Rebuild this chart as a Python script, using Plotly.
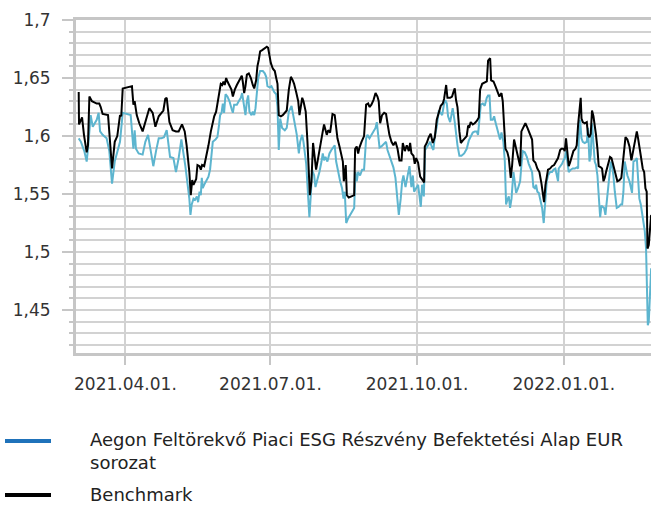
import plotly.graph_objects as go
import pandas as pd

BASE_DATE = "2021-03-01"  # day offsets below are counted from this date

# (days since BASE_DATE, value)
benchmark = [
    (1.7, 1.638), (1.9, 1.610), (3.8, 1.616), (5.0, 1.601), (6.7, 1.586), (7.5, 1.592), (8.4, 1.634),
    (10.0, 1.630), (13.0, 1.628), (14.6, 1.628), (15.5, 1.625), (16.7, 1.619), (20.1, 1.618), (20.9, 1.601),
    (22.6, 1.572), (24.3, 1.595), (25.9, 1.600), (27.6, 1.618), (28.4, 1.617), (29.3, 1.641), (35.1, 1.643),
    (36.0, 1.627), (36.8, 1.630), (38.1, 1.618), (39.7, 1.611), (41.8, 1.604), (43.9, 1.614), (46.0, 1.624),
    (48.1, 1.620), (49.8, 1.608), (51.9, 1.617), (54.8, 1.622), (56.0, 1.632), (56.9, 1.633), (58.6, 1.612),
    (60.6, 1.605), (62.7, 1.604), (64.4, 1.604), (66.5, 1.610), (68.2, 1.604), (69.4, 1.592), (71.1, 1.569),
    (72.0, 1.549), (72.9, 1.562), (73.7, 1.558), (75.4, 1.563), (76.2, 1.575), (77.5, 1.574), (78.3, 1.571),
    (79.1, 1.575), (80.4, 1.574), (81.6, 1.581), (83.1, 1.592), (84.6, 1.604), (85.8, 1.611), (86.7, 1.617),
    (87.9, 1.621), (88.7, 1.627), (90.0, 1.638), (90.8, 1.645), (91.7, 1.644), (92.5, 1.647), (93.3, 1.644),
    (94.2, 1.650), (95.0, 1.647), (96.3, 1.644), (97.5, 1.640), (98.4, 1.634), (99.6, 1.640), (100.9, 1.644),
    (102.5, 1.648), (104.0, 1.652), (104.6, 1.647), (105.5, 1.637), (106.3, 1.643), (107.2, 1.653), (108.4, 1.654),
    (109.7, 1.650), (110.9, 1.644), (111.8, 1.641), (113.0, 1.648), (113.8, 1.660), (114.7, 1.666), (115.5, 1.673),
    (116.8, 1.674), (118.4, 1.676), (119.7, 1.677), (120.5, 1.676), (121.4, 1.670), (122.2, 1.663), (123.5, 1.658),
    (124.7, 1.656), (125.6, 1.650), (126.4, 1.645), (127.2, 1.618), (128.5, 1.617), (129.7, 1.618), (131.4, 1.621),
    (132.2, 1.622), (133.5, 1.640), (134.8, 1.651), (136.0, 1.648), (136.8, 1.645), (138.1, 1.638), (139.4, 1.630),
    (140.2, 1.618), (141.0, 1.625), (141.9, 1.633), (142.7, 1.630), (144.1, 1.621), (145.2, 1.595), (146.0, 1.572),
    (146.7, 1.549), (147.7, 1.561), (148.7, 1.594), (149.8, 1.581), (150.6, 1.571), (151.5, 1.578), (152.5, 1.587),
    (153.6, 1.595), (154.8, 1.604), (155.6, 1.610), (156.5, 1.604), (157.3, 1.601), (158.2, 1.605), (159.4, 1.603),
    (160.2, 1.611), (160.9, 1.619), (162.3, 1.618), (163.2, 1.604), (164.0, 1.598), (165.3, 1.591), (166.5, 1.583),
    (167.4, 1.578), (168.0, 1.561), (168.8, 1.572), (169.2, 1.575), (169.9, 1.549), (171.1, 1.547), (172.8, 1.548),
    (174.5, 1.549), (175.1, 1.589), (176.1, 1.591), (177.0, 1.585), (177.8, 1.590), (179.1, 1.595), (180.7, 1.600),
    (182.0, 1.627), (183.3, 1.628), (184.1, 1.625), (185.3, 1.627), (186.6, 1.631), (187.9, 1.637), (189.1, 1.634),
    (189.9, 1.630), (190.8, 1.611), (192.0, 1.618), (193.3, 1.620), (194.5, 1.619), (195.4, 1.611), (196.6, 1.601),
    (197.9, 1.595), (199.1, 1.592), (200.4, 1.595), (201.7, 1.589), (202.9, 1.579), (204.2, 1.579), (205.0, 1.594),
    (206.3, 1.587), (207.5, 1.592), (208.8, 1.587), (209.6, 1.594), (210.4, 1.585), (211.7, 1.583), (212.5, 1.576),
    (213.4, 1.581), (214.6, 1.577), (215.9, 1.565), (217.1, 1.563), (218.4, 1.560), (218.8, 1.591), (220.0, 1.594),
    (221.3, 1.599), (222.5, 1.602), (223.8, 1.594), (225.1, 1.599), (226.3, 1.614), (227.6, 1.621), (228.8, 1.626),
    (230.1, 1.628), (230.9, 1.632), (232.2, 1.644), (233.0, 1.633), (234.7, 1.633), (235.9, 1.634), (236.8, 1.638),
    (237.6, 1.641), (238.4, 1.631), (239.3, 1.625), (240.5, 1.604), (241.4, 1.594), (242.6, 1.596), (243.9, 1.598),
    (245.1, 1.600), (246.0, 1.609), (246.8, 1.608), (247.6, 1.612), (248.9, 1.610), (250.1, 1.611), (251.4, 1.613),
    (252.7, 1.616), (253.5, 1.640), (254.8, 1.645), (256.4, 1.646), (257.7, 1.647), (258.5, 1.665), (259.8, 1.667),
    (260.4, 1.648), (261.9, 1.647), (263.1, 1.643), (264.4, 1.639), (265.6, 1.634), (266.9, 1.637), (267.7, 1.630),
    (268.6, 1.608), (269.4, 1.589), (270.6, 1.586), (271.5, 1.581), (272.7, 1.564), (273.6, 1.575), (274.8, 1.597),
    (275.7, 1.592), (276.5, 1.585), (277.8, 1.579), (278.6, 1.574), (279.4, 1.604), (280.7, 1.608), (281.9, 1.611),
    (283.2, 1.607), (284.4, 1.603), (286.1, 1.597), (286.9, 1.579), (288.2, 1.577), (289.4, 1.572), (290.7, 1.569),
    (292.0, 1.559), (292.8, 1.552), (293.6, 1.543), (294.5, 1.558), (295.3, 1.564), (296.1, 1.571), (297.4, 1.572),
    (298.6, 1.574), (299.9, 1.575), (300.7, 1.577), (301.6, 1.578), (302.4, 1.581), (303.7, 1.588), (304.5, 1.589),
    (305.8, 1.589), (306.6, 1.587), (307.4, 1.598), (308.3, 1.588), (309.1, 1.574), (309.9, 1.577), (310.8, 1.582),
    (312.0, 1.587), (313.3, 1.589), (314.1, 1.592), (315.0, 1.610), (315.8, 1.621), (316.6, 1.633), (317.1, 1.615),
    (317.9, 1.612), (319.1, 1.611), (320.4, 1.612), (321.2, 1.601), (322.1, 1.599), (322.9, 1.602), (323.7, 1.622),
    (324.6, 1.617), (325.4, 1.610), (326.2, 1.601), (327.1, 1.589), (327.9, 1.574), (329.2, 1.573), (330.0, 1.572),
    (330.9, 1.561), (331.7, 1.564), (332.5, 1.569), (333.8, 1.575), (335.0, 1.582), (335.9, 1.581), (337.1, 1.574),
    (338.4, 1.566), (339.6, 1.561), (340.9, 1.562), (342.1, 1.564), (343.0, 1.576), (343.8, 1.589), (344.7, 1.599),
    (345.9, 1.597), (347.2, 1.591), (348.4, 1.579), (349.7, 1.588), (350.9, 1.598), (351.8, 1.604), (352.6, 1.598),
    (353.4, 1.589), (354.3, 1.583), (355.5, 1.572), (356.4, 1.569), (357.2, 1.555), (358.0, 1.552), (358.5, 1.503),
    (359.3, 1.506), (360.8, 1.532),
]

fund = [
    (1.7, 1.598), (3.1, 1.595), (5.2, 1.587), (6.7, 1.578), (7.5, 1.589), (8.4, 1.601), (9.2, 1.618), (10.5, 1.608),
    (13.0, 1.614), (14.2, 1.620), (15.1, 1.604), (16.7, 1.601), (19.2, 1.598), (20.9, 1.587), (22.6, 1.559),
    (24.3, 1.578), (25.9, 1.587), (27.6, 1.595), (29.3, 1.620), (34.3, 1.618), (36.0, 1.589), (36.8, 1.605),
    (37.6, 1.589), (39.3, 1.585), (41.8, 1.584), (43.5, 1.595), (45.2, 1.601), (46.8, 1.589), (48.5, 1.574),
    (50.2, 1.587), (51.9, 1.598), (53.5, 1.598), (55.2, 1.599), (56.9, 1.605), (59.0, 1.582), (61.1, 1.581),
    (62.7, 1.569), (64.4, 1.581), (66.1, 1.597), (68.6, 1.574), (71.1, 1.546), (71.8, 1.532), (72.6, 1.541),
    (73.7, 1.546), (74.7, 1.545), (75.8, 1.548), (76.6, 1.543), (77.5, 1.552), (78.3, 1.549), (78.9, 1.564),
    (79.5, 1.555), (80.4, 1.558), (81.6, 1.561), (83.1, 1.565), (84.1, 1.571), (85.0, 1.587), (85.8, 1.595),
    (87.5, 1.597), (88.7, 1.599), (89.6, 1.608), (90.4, 1.618), (91.3, 1.620), (92.1, 1.628), (92.9, 1.620),
    (93.8, 1.636), (95.0, 1.634), (96.3, 1.630), (97.5, 1.624), (98.4, 1.620), (99.2, 1.627), (100.9, 1.627),
    (102.1, 1.630), (103.4, 1.633), (104.2, 1.637), (105.1, 1.627), (106.3, 1.618), (107.2, 1.630), (108.0, 1.635),
    (108.8, 1.621), (110.1, 1.618), (110.9, 1.621), (111.8, 1.618), (112.6, 1.624), (113.4, 1.635), (114.3, 1.650),
    (115.5, 1.656), (117.2, 1.656), (118.4, 1.654), (119.3, 1.651), (120.1, 1.643), (121.4, 1.642), (122.6, 1.643),
    (124.3, 1.638), (125.6, 1.636), (126.4, 1.625), (127.2, 1.588), (128.1, 1.615), (129.3, 1.607), (131.0, 1.605),
    (132.2, 1.607), (133.5, 1.621), (135.2, 1.626), (136.4, 1.618), (137.7, 1.608), (138.5, 1.601), (139.8, 1.585),
    (140.6, 1.595), (141.9, 1.601), (142.7, 1.595), (144.4, 1.576), (145.2, 1.561), (146.4, 1.530), (147.3, 1.549),
    (148.1, 1.571), (149.4, 1.566), (150.2, 1.556), (151.5, 1.563), (152.7, 1.569), (154.0, 1.578), (154.8, 1.585),
    (155.6, 1.579), (156.5, 1.582), (157.7, 1.578), (159.0, 1.585), (160.2, 1.588), (161.5, 1.591), (162.3, 1.592),
    (163.2, 1.578), (164.4, 1.569), (165.7, 1.561), (166.9, 1.555), (167.8, 1.546), (168.6, 1.552), (169.5, 1.525),
    (170.7, 1.529), (172.4, 1.533), (174.5, 1.538), (175.3, 1.569), (176.1, 1.561), (177.0, 1.569), (178.2, 1.566),
    (179.5, 1.571), (180.7, 1.571), (182.0, 1.598), (182.8, 1.601), (184.1, 1.598), (185.3, 1.601), (186.6, 1.604),
    (187.9, 1.607), (188.7, 1.612), (189.5, 1.601), (190.4, 1.590), (191.6, 1.591), (193.3, 1.593), (194.5, 1.595),
    (195.4, 1.588), (196.6, 1.583), (197.9, 1.576), (199.1, 1.573), (200.4, 1.564), (201.7, 1.543), (202.5, 1.532),
    (203.7, 1.546), (204.6, 1.561), (205.4, 1.566), (206.7, 1.556), (207.9, 1.565), (209.2, 1.574), (210.4, 1.556),
    (211.3, 1.566), (212.1, 1.552), (213.8, 1.556), (214.6, 1.558), (216.3, 1.539), (217.1, 1.558), (218.2, 1.548),
    (219.0, 1.588), (220.9, 1.592), (222.1, 1.595), (223.4, 1.590), (224.2, 1.588), (225.1, 1.600), (226.3, 1.608),
    (227.6, 1.622), (228.8, 1.620), (229.7, 1.618), (230.9, 1.628), (231.7, 1.631), (232.6, 1.628), (233.4, 1.617),
    (234.7, 1.612), (235.5, 1.618), (236.3, 1.624), (237.6, 1.612), (238.4, 1.601), (239.3, 1.592), (240.5, 1.583),
    (241.8, 1.583), (243.5, 1.585), (245.1, 1.589), (246.4, 1.596), (247.6, 1.600), (248.9, 1.603), (250.2, 1.604),
    (251.4, 1.604), (252.2, 1.601), (253.1, 1.614), (253.9, 1.627), (255.2, 1.628), (256.4, 1.626), (257.7, 1.633),
    (258.5, 1.635), (259.4, 1.635), (260.2, 1.614), (261.4, 1.614), (262.3, 1.617), (263.1, 1.612), (264.4, 1.605),
    (265.2, 1.601), (266.0, 1.597), (266.9, 1.603), (268.1, 1.595), (269.0, 1.578), (269.8, 1.541), (270.6, 1.545),
    (271.5, 1.548), (272.3, 1.538), (273.2, 1.546), (274.4, 1.569), (275.2, 1.561), (276.1, 1.551), (277.3, 1.555),
    (278.6, 1.561), (279.4, 1.575), (280.3, 1.587), (281.5, 1.586), (282.8, 1.582), (284.0, 1.576), (286.1, 1.569),
    (286.9, 1.556), (287.8, 1.555), (288.6, 1.558), (289.4, 1.552), (290.3, 1.551), (291.1, 1.546), (292.4, 1.538),
    (293.4, 1.525), (294.5, 1.552), (295.3, 1.561), (296.1, 1.566), (297.4, 1.569), (298.6, 1.569), (299.5, 1.571),
    (300.7, 1.572), (301.6, 1.566), (302.4, 1.561), (302.8, 1.572), (304.1, 1.574), (304.9, 1.576), (305.8, 1.579),
    (306.6, 1.581), (307.4, 1.587), (308.3, 1.578), (309.1, 1.569), (310.4, 1.571), (311.6, 1.572), (312.9, 1.572),
    (314.1, 1.573), (315.0, 1.572), (315.4, 1.598), (316.2, 1.614), (317.1, 1.598), (317.9, 1.595), (319.1, 1.594),
    (320.4, 1.595), (321.2, 1.607), (322.1, 1.578), (322.9, 1.584), (323.7, 1.611), (324.6, 1.592), (325.4, 1.578),
    (326.2, 1.575), (327.1, 1.566), (327.9, 1.549), (328.8, 1.530), (329.6, 1.540), (330.4, 1.539), (331.3, 1.538),
    (332.1, 1.532), (333.4, 1.549), (334.2, 1.561), (335.5, 1.578), (336.3, 1.574), (337.1, 1.566), (338.0, 1.552),
    (339.2, 1.538), (340.5, 1.539), (341.7, 1.541), (342.6, 1.541), (343.4, 1.552), (344.2, 1.578), (345.1, 1.572),
    (345.9, 1.566), (347.2, 1.561), (348.0, 1.555), (348.8, 1.551), (349.7, 1.578), (350.9, 1.579), (351.8, 1.581),
    (352.6, 1.559), (353.4, 1.546), (354.3, 1.541), (355.5, 1.529), (356.8, 1.518), (357.6, 1.503), (358.7, 1.437),
    (359.3, 1.440), (360.8, 1.486),
]

fund_name = "Aegon Feltörekvő Piaci ESG Részvény Befektetési Alap EUR sorozat"
fund_legend_text = "Aegon Feltörekvő Piaci ESG Részvény Befektetési Alap EUR<br>sorozat"
bench_name = "Benchmark"

x_tick_format = "%Y.%m.%d."

# ---------------------------------------------------------------------------
base = pd.Timestamp(BASE_DATE)


def to_dates(days):
    return [base + pd.Timedelta(days=float(d)) for d in days]


b_days, b_vals = zip(*benchmark)
f_days, f_vals = zip(*fund)

W, H = 651, 505
L, R, T, B = 76, 0, 20, 152


def px(x):
    return (x - L) / (W - L - R)


def py(y):
    return (H - B - y) / (H - T - B)


GRID = "#d2d2d2"
AXIS = "#c6c6c6"
TEXT = "#333333"
FONT = "DejaVu Sans"

fig = go.Figure()
fig.add_trace(go.Scatter(x=to_dates(f_days), y=list(f_vals), mode="lines", name=fund_name,
                         line=dict(color="#5DB5CF", width=2), showlegend=False))
fig.add_trace(go.Scatter(x=to_dates(b_days), y=list(b_vals), mode="lines", name=bench_name,
                         line=dict(color="#000000", width=2), showlegend=False))

fig.update_layout(
    width=W, height=H,
    margin=dict(l=L, r=R, t=T, b=B, pad=0),
    paper_bgcolor="white", plot_bgcolor="white",
    separators=", ",
    font=dict(family=FONT, size=16, color=TEXT),
    showlegend=False,
)

fig.update_xaxes(
    type="date",
    range=[base, base + pd.Timedelta(days=360.7)],
    tickformat=x_tick_format, dtick="M3", tick0="2021-01-01",
    showgrid=True, gridcolor=GRID, gridwidth=2,
    showline=True, linecolor=AXIS, linewidth=3, mirror=True,
    ticks="outside", ticklen=9, tickwidth=2, tickcolor=AXIS,
    ticklabelstandoff=5, zeroline=False,
    tickfont=dict(family=FONT, size=17, color=TEXT),
)

fig.update_yaxes(
    range=[1.413, 1.7], dtick=0.05, tick0=1.45,
    showgrid=True, gridcolor=GRID, gridwidth=2,
    minor=dict(dtick=0.01, tick0=1.4, showgrid=True, gridcolor=GRID, gridwidth=2,
               ticks="outside", ticklen=4, tickcolor=AXIS, tickwidth=2),
    showline=True, linecolor=AXIS, linewidth=3,
    ticks="outside", ticklen=11, tickwidth=2, tickcolor=AXIS,
    ticklabelstandoff=8, zeroline=False,
    tickfont=dict(family=FONT, size=17, color=TEXT),
)

# custom legend
fig.add_shape(type="line", xref="paper", yref="paper", x0=px(5), x1=px(51), y0=py(441), y1=py(441),
              line=dict(color="#1F72BA", width=4))
fig.add_shape(type="line", xref="paper", yref="paper", x0=px(5), x1=px(51), y0=py(495), y1=py(495),
              line=dict(color="#000000", width=4))
fig.add_annotation(xref="paper", yref="paper", x=px(88), y=py(451), xanchor="left", yanchor="middle",
                   text=fund_legend_text, showarrow=False, align="left",
                   font=dict(family=FONT, size=18, color="#222222"))
fig.add_annotation(xref="paper", yref="paper", x=px(88), y=py(494), xanchor="left", yanchor="middle",
                   text=bench_name, showarrow=False, align="left",
                   font=dict(family=FONT, size=18, color="#222222"))

fig.write_html("out.html", config={"displayModeBar": False},
               post_script="document.body.style.margin='0';document.body.style.overflow='hidden';")
